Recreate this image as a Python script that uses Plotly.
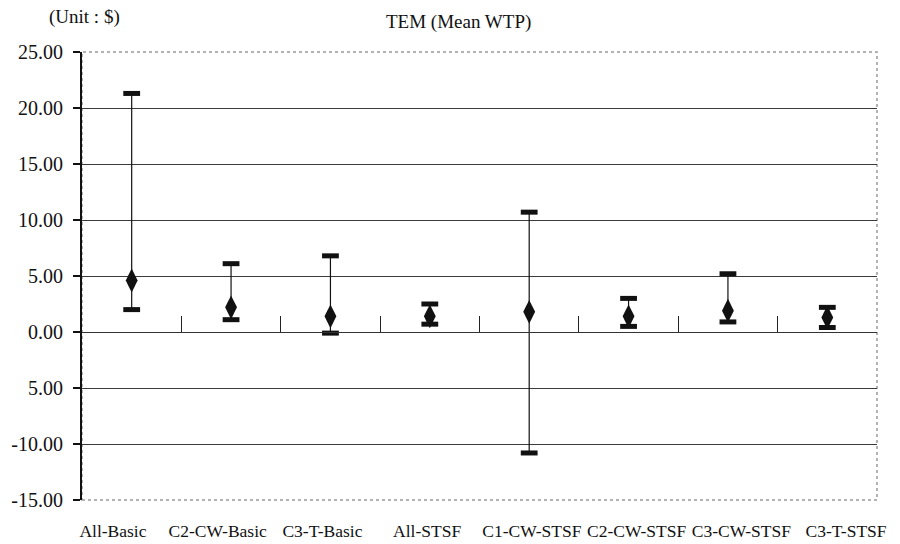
import plotly.graph_objects as go

categories = ["All-Basic", "C2-CW-Basic", "C3-T-Basic", "All-STSF",
              "C1-CW-STSF", "C2-CW-STSF", "C3-CW-STSF", "C3-T-STSF"]
high_vals = [21.3, 6.1, 6.8, 2.5, 10.7, 3.0, 5.2, 2.2]
low_vals = [2.0, 1.1, -0.1, 0.7, -10.8, 0.5, 0.9, 0.4]
mean_vals = [4.6, 2.2, 1.4, 1.4, 1.8, 1.4, 1.9, 1.3]

y_tickvals = [-15, -10, -5, 0, 5, 10, 15, 20, 25]
y_ticktext = ["-15.00", "-10.00", "5.00", "0.00", "5.00", "10.00", "15.00", "20.00", "25.00"]
grid_vals = [-10, -5, 0, 5, 10, 15, 20]

FONT = "Liberation Serif"
idx = list(range(len(categories)))

fig = go.Figure()

# helper traces so overlay axes are drawn
fig.add_trace(go.Scatter(x=[], y=[], xaxis="x2", showlegend=False))
fig.add_trace(go.Scatter(x=[], y=[], xaxis="x3", showlegend=False))
fig.add_trace(go.Scatter(x=[], y=[], yaxis="y2", showlegend=False))

# mean diamonds with low-high range bars
fig.add_trace(go.Scatter(
    x=idx, y=mean_vals, mode="markers",
    marker=dict(symbol="diamond-tall", size=17, color="#111"),
    error_y=dict(type="data", symmetric=False,
                 array=[h - m for h, m in zip(high_vals, mean_vals)],
                 arrayminus=[m - l for m, l in zip(mean_vals, low_vals)],
                 width=0, thickness=1.2, color="#111"),
    showlegend=False, hoverinfo="skip"))
# high / low dash markers
for vals in (high_vals, low_vals):
    fig.add_trace(go.Scatter(
        x=idx, y=vals, mode="markers",
        marker=dict(symbol="line-ew", size=12,
                    line=dict(width=5, color="#111")),
        showlegend=False, hoverinfo="skip"))

fig.update_layout(
    width=900, height=544,
    margin=dict(l=82, r=23, t=52, b=44, autoexpand=False),
    paper_bgcolor="white", plot_bgcolor="white",
    font=dict(family=FONT, color="#111"),
    xaxis=dict(range=[-0.5, 7.5], showgrid=False, showline=False,
               showticklabels=False, ticks="", zeroline=False, automargin=False),
    # zero-crossing category axis with upward ticks at boundaries
    xaxis2=dict(overlaying="x", anchor="free", position=0.375,
                range=[-0.5, 7.5], tickvals=[i + 0.5 for i in idx],
                ticks="inside", ticklen=16, tickwidth=1, tickcolor="#222",
                showline=True, linecolor="#333", linewidth=1,
                showticklabels=False, showgrid=False, zeroline=False,
                automargin=False),
    # category labels
    xaxis3=dict(overlaying="x", anchor="free", position=0,
                range=[-0.2956, 7.2957], tickvals=idx, ticktext=categories,
                ticks="", showline=False, showgrid=False, zeroline=False,
                tickangle=0, ticklabelstandoff=18, automargin=False,
                tickfont=dict(family=FONT, size=17.5, color="#111")),
    yaxis=dict(range=[-15, 25], tickvals=y_tickvals, ticktext=y_ticktext,
               showgrid=False, zeroline=False, automargin=False,
               showline=True, linecolor="#111", linewidth=2,
               ticks="outside", ticklen=7, tickwidth=1.5, tickcolor="#111",
               ticklabelstandoff=6,
               tickfont=dict(family=FONT, size=20, color="#111")),
    yaxis2=dict(overlaying="y", range=[-15, 25], tickvals=grid_vals,
                showgrid=True, gridcolor="#3a3a3a", gridwidth=1,
                showticklabels=False, ticks="", zeroline=False, showline=False,
                automargin=False),
    shapes=[dict(type="rect", xref="paper", yref="paper", x0=0, x1=1, y0=0, y1=1,
                 line=dict(color="#999", width=1.5, dash="dot"), layer="below")],
    annotations=[
        dict(text="TEM (Mean WTP)", xref="paper", yref="paper", x=0.474, y=1.0,
             yanchor="middle", yshift=30, showarrow=False,
             font=dict(family=FONT, size=19, color="#111")),
        dict(text="(Unit : $)", xref="paper", yref="paper", x=0.0, y=1.0,
             xanchor="center", yanchor="middle", xshift=2, yshift=35, showarrow=False,
             font=dict(family=FONT, size=19, color="#111")),
    ],
)

fig.write_html("out.html", config={"displayModeBar": False},
               post_script="document.body.style.margin='0';document.body.style.overflow='hidden';")
